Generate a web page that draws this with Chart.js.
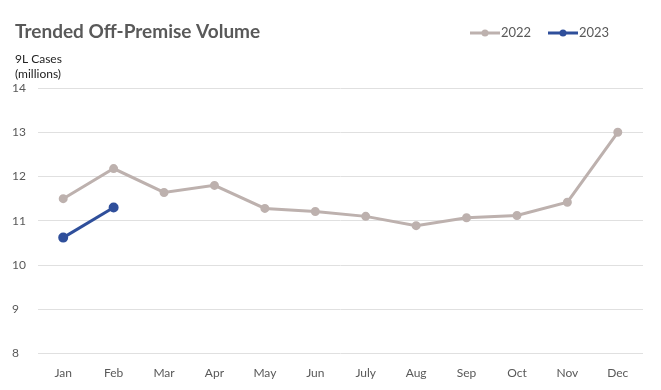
<!DOCTYPE html>
<html>
<head>
<meta charset="utf-8">
<script src="https://cdn.jsdelivr.net/npm/chart.js@4/dist/chart.umd.min.js"></script>
<style>
  body { margin: 0; background: #ffffff; }
  #volume { display: block; }
</style>
</head>
<body>
<canvas id="volume" width="661" height="390"></canvas>
<script>
var months = ['Jan','Feb','Mar','Apr','May','Jun','July','Aug','Sep','Oct','Nov','Dec'];
var volume2022 = [11.5, 12.18, 11.64, 11.8, 11.28, 11.21, 11.1, 10.89, 11.07, 11.12, 11.42, 13.0];
var volume2023 = [10.62, 11.3];
var seriesLabels = ['2022', '2023'];

var FONT = 'Lato, "Open Sans", sans-serif';

// title, axis caption and legend drawn by hand
var decorations = {
    id: 'decorations',
    afterDraw: function(chart){
        var ctx = chart.ctx;
        ctx.save();
        ctx.textBaseline = 'middle';
        ctx.textAlign = 'left';
        ctx.fillStyle = '#595959';
        ctx.font = 'bold 19px ' + FONT;
        ctx.fillText('Trended Off-Premise Volume', 15, 32);
        ctx.fillStyle = '#222222';
        ctx.font = '12px ' + FONT;
        ctx.fillText('9L Cases', 15, 59);
        ctx.fillText('(millions)', 15, 74);

        var x = 470;
        var sets = chart.data.datasets;
        for (var i = 0; i < sets.length; i++){
            ctx.strokeStyle = sets[i].borderColor;
            ctx.fillStyle = sets[i].borderColor;
            ctx.lineWidth = 3;
            ctx.beginPath();
            ctx.moveTo(x, 33);
            ctx.lineTo(x + 30, 33);
            ctx.stroke();
            ctx.beginPath();
            ctx.arc(x + 15, 33, 3.5, 0, Math.PI * 2);
            ctx.fill();
            ctx.fillStyle = '#595959';
            ctx.font = '13px ' + FONT;
            ctx.fillText(sets[i].label, x + 31, 33);
            x += 78;
        }
        ctx.restore();
    }
};

new Chart(document.getElementById('volume'), {
    type: 'line',
    data: {
        labels: months,
        datasets: [{
            label: seriesLabels[0],
            data: volume2022,
            borderColor: '#bdb1ae',
            backgroundColor: '#bdb1ae',
            borderWidth: 3,
            pointRadius: 3,
            pointHoverRadius: 3,
            tension: 0,
            fill: false
        },
        {
            label: seriesLabels[1],
            data: volume2023,
            borderColor: '#2f4f9b',
            backgroundColor: '#2f4f9b',
            borderWidth: 3,
            pointRadius: 3.5,
            pointHoverRadius: 3.5,
            tension: 0,
            fill: false
        }]
    },
    options: {
        responsive: false,
        animation: false,
        layout: { padding: { top: 88, left: 12, right: 18, bottom: 6 } },
        plugins: {
            legend: { display: false },
            tooltip: { enabled: false }
        },
        scales: {
            x: {
                offset: true,
                grid: { display: false },
                border: { display: false },
                ticks: { color: '#595959', font: { family: FONT, size: 12 }, padding: 4, maxRotation: 0 }
            },
            y: {
                min: 8,
                max: 14,
                grid: { color: '#e0e0e0', lineWidth: 1, drawTicks: false },
                border: { display: false },
                afterFit: function(scale){ scale.width = 26; },
                ticks: {
                    stepSize: 1,
                    color: '#595959',
                    font: { family: FONT, size: 12 },
                    crossAlign: 'far',
                    padding: 6
                }
            }
        }
    },
    plugins: [decorations]
});
</script>
</body>
</html>
